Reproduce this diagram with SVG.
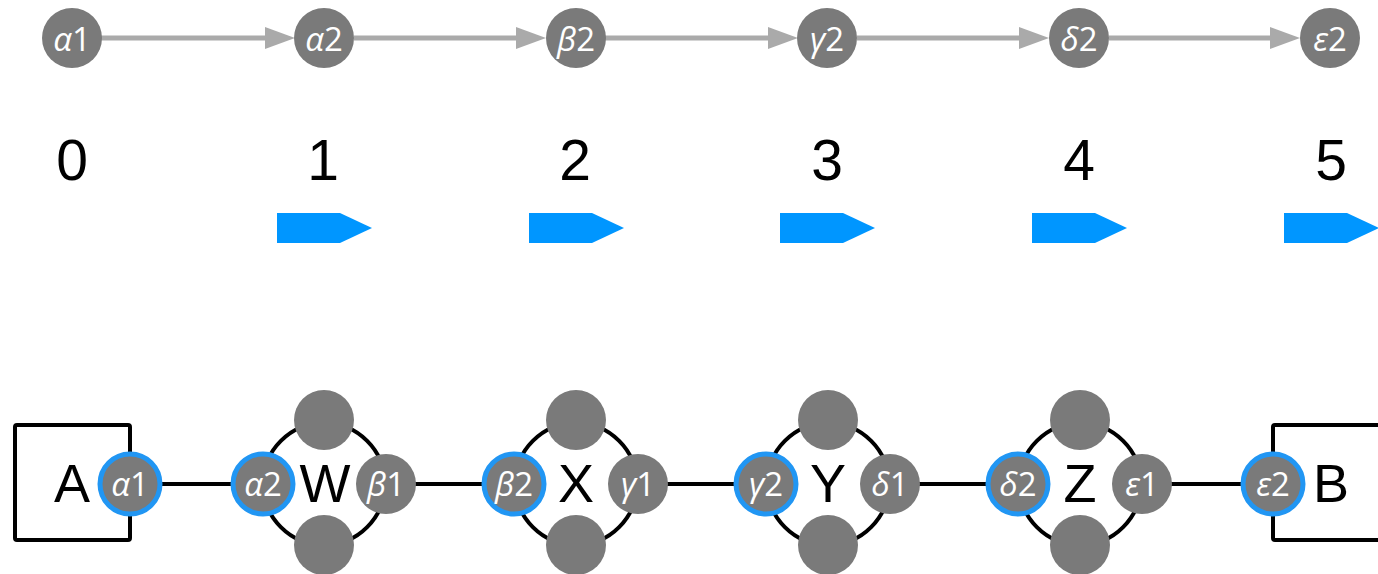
<svg xmlns="http://www.w3.org/2000/svg" width="1378" height="574" viewBox="0 0 1378 574">
<style>
.n{fill:#7a7a7a}
.p{fill:#7a7a7a;stroke:#2196f3;stroke-width:5}
.t{fill:#fff;font-family:"Open Sans","Noto Sans",sans-serif;font-size:33px;text-anchor:middle}
.g{font-style:italic}
.e{stroke:#aaa;stroke-width:5;fill:none}
.k{stroke:#000;stroke-width:4;fill:none}
.num{font-family:"Liberation Sans",Arial,sans-serif;font-size:57px;text-anchor:middle;fill:#000}
.lb{font-family:"Liberation Sans",Arial,sans-serif;font-size:54px;text-anchor:middle;fill:#000}
.ba{fill:#0096ff}
</style>
<defs>
<marker id="ah" markerUnits="userSpaceOnUse" markerWidth="30" markerHeight="22" refX="2" refY="11" orient="auto">
<path d="M0,0 L30,11 L0,22 z" fill="#aaa"/>
</marker>
</defs>

<g id="top-connectors">
<line class="e" x1="101" y1="38" x2="267" y2="38" marker-end="url(#ah)"/>
<line class="e" x1="354" y1="38" x2="518" y2="38" marker-end="url(#ah)"/>
<line class="e" x1="605" y1="38" x2="770" y2="38" marker-end="url(#ah)"/>
<line class="e" x1="857" y1="38" x2="1021" y2="38" marker-end="url(#ah)"/>
<line class="e" x1="1109" y1="38" x2="1272" y2="38" marker-end="url(#ah)"/>
</g>

<g id="t-a1"><circle class="n" cx="72" cy="38" r="30"/><text class="t" x="72" y="51"><tspan class="g">α</tspan>1</text></g>
<g id="t-a2"><circle class="n" cx="324" cy="38" r="30"/><text class="t" x="324" y="51"><tspan class="g">α</tspan>2</text></g>
<g id="t-b2"><circle class="n" cx="576" cy="38" r="30"/><text class="t" x="576" y="51"><tspan class="g">β</tspan>2</text></g>
<g id="t-g2"><circle class="n" cx="827" cy="38" r="30"/><text class="t" x="827" y="51"><tspan class="g">γ</tspan>2</text></g>
<g id="t-d2"><circle class="n" cx="1079" cy="38" r="30"/><text class="t" x="1079" y="51"><tspan class="g">δ</tspan>2</text></g>
<g id="t-e2"><circle class="n" cx="1330" cy="38" r="30"/><text class="t" x="1330" y="51"><tspan class="g">ε</tspan>2</text></g>

<g id="numbers">
<text class="num" x="72" y="180">0</text>
<text class="num" x="323" y="180">1</text>
<text class="num" x="575" y="180">2</text>
<text class="num" x="827" y="180">3</text>
<text class="num" x="1079" y="180">4</text>
<text class="num" x="1331" y="180">5</text>
</g>

<g id="blue-arrows">
<path class="ba" d="M277,213 H340 L372,228 L340,243 H277 z"/>
<path class="ba" d="M529,213 H592 L624,228 L592,243 H529 z"/>
<path class="ba" d="M780,213 H843 L875,228 L843,243 H780 z"/>
<path class="ba" d="M1032,213 H1095 L1127,228 L1095,243 H1032 z"/>
<path class="ba" d="M1284,213 H1347 L1379,228 L1347,243 H1284 z"/>
</g>

<g id="bottom-connectors">
<line class="k" x1="130" y1="484" x2="262" y2="484"/>
<line class="k" x1="386" y1="484" x2="514" y2="484"/>
<line class="k" x1="638" y1="484" x2="766" y2="484"/>
<line class="k" x1="890" y1="484" x2="1018" y2="484"/>
<line class="k" x1="1142" y1="484" x2="1273" y2="484"/>
</g>

<g id="A">
<rect class="k" x="15" y="425" width="115" height="115" rx="2"/>
<text class="lb" x="72" y="502">A</text>
<circle class="p" cx="130" cy="484" r="30"/><text class="t" x="130" y="496"><tspan class="g">α</tspan>1</text>
</g>

<g id="W">
<circle class="k" cx="324" cy="484" r="61"/>
<circle class="n" cx="324" cy="420" r="30"/>
<circle class="n" cx="324" cy="545" r="30"/>
<text class="lb" x="325" y="502">W</text>
<circle class="p" cx="263" cy="484" r="30"/><text class="t" x="263" y="496"><tspan class="g">α</tspan>2</text>
<circle class="n" cx="386" cy="484" r="30"/><text class="t" x="386" y="496"><tspan class="g">β</tspan>1</text>
</g>

<g id="X">
<circle class="k" cx="576" cy="484" r="61"/>
<circle class="n" cx="576" cy="420" r="30"/>
<circle class="n" cx="576" cy="545" r="30"/>
<text class="lb" x="576" y="502">X</text>
<circle class="p" cx="514" cy="484" r="30"/><text class="t" x="514" y="496"><tspan class="g">β</tspan>2</text>
<circle class="n" cx="638" cy="484" r="30"/><text class="t" x="638" y="496"><tspan class="g">γ</tspan>1</text>
</g>

<g id="Y">
<circle class="k" cx="828" cy="484" r="61"/>
<circle class="n" cx="828" cy="420" r="30"/>
<circle class="n" cx="828" cy="545" r="30"/>
<text class="lb" x="828" y="502">Y</text>
<circle class="p" cx="766" cy="484" r="30"/><text class="t" x="766" y="496"><tspan class="g">γ</tspan>2</text>
<circle class="n" cx="890" cy="484" r="30"/><text class="t" x="890" y="496"><tspan class="g">δ</tspan>1</text>
</g>

<g id="Z">
<circle class="k" cx="1080" cy="484" r="61"/>
<circle class="n" cx="1080" cy="420" r="30"/>
<circle class="n" cx="1080" cy="545" r="30"/>
<text class="lb" x="1080" y="502">Z</text>
<circle class="p" cx="1018" cy="484" r="30"/><text class="t" x="1018" y="496"><tspan class="g">δ</tspan>2</text>
<circle class="n" cx="1142" cy="484" r="30"/><text class="t" x="1142" y="496"><tspan class="g">ε</tspan>1</text>
</g>

<g id="B">
<rect class="k" x="1273" y="425" width="130" height="115" rx="2"/>
<text class="lb" x="1331" y="502">B</text>
<circle class="p" cx="1273" cy="484" r="30"/><text class="t" x="1273" y="496"><tspan class="g">ε</tspan>2</text>
</g>
</svg>
